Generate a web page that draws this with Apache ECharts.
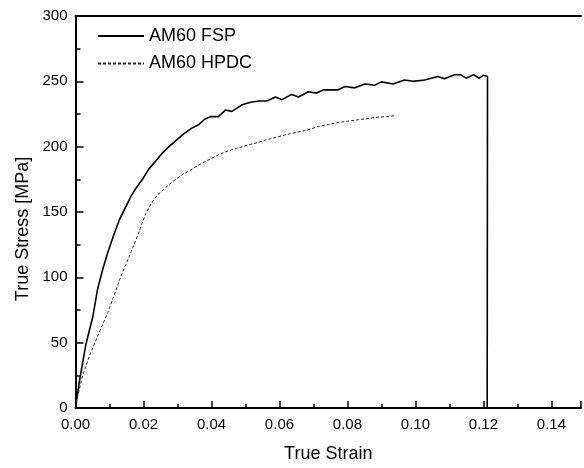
<!DOCTYPE html>
<html>
<head>
<meta charset="utf-8">
<script src="https://cdn.jsdelivr.net/npm/echarts@6/dist/echarts.min.js"></script>
<style>html,body{margin:0;padding:0;background:#fff;}#c{width:584px;height:468px;}</style>
</head>
<body>
<div id="c"></div>
<script>
var seriesNames = ['AM60 FSP', 'AM60 HPDC'];
var fspStrain = [0, 0.001, 0.003, 0.0051, 0.0065, 0.0080, 0.0095, 0.0112, 0.0129, 0.0146, 0.0163, 0.0180, 0.0197, 0.0216, 0.0236, 0.0255, 0.0275, 0.0297, 0.0319, 0.0341, 0.0363, 0.0380, 0.0397, 0.0420, 0.0441, 0.0460, 0.0490, 0.0515, 0.0539, 0.0563, 0.0588, 0.0607, 0.0636, 0.0656, 0.0685, 0.0710, 0.0730, 0.0773, 0.0793, 0.0822, 0.0851, 0.0880, 0.0900, 0.0934, 0.0968, 0.0993, 0.1027, 0.1066, 0.1085, 0.1115, 0.1134, 0.1149, 0.1171, 0.1188, 0.1200, 0.1212, 0.1211];
var fspStress = [0, 18, 48, 70, 91, 106, 119, 132, 144, 153, 162, 169, 175, 183, 189, 195, 200, 205, 210, 214, 217, 221, 223, 223, 228, 227, 232, 234, 235, 235, 238, 236, 240, 238, 242, 241, 243.5, 243.5, 246, 245, 248, 247, 249.6, 248, 251, 250, 251, 253.7, 252, 255, 255, 252.4, 255, 252.4, 254.7, 253.7, 0];
var hpdcStrain = [0, 0.0002, 0.0021, 0.0041, 0.0070, 0.0095, 0.0109, 0.0134, 0.0158, 0.0182, 0.0207, 0.0224, 0.0241, 0.0258, 0.0275, 0.0295, 0.0314, 0.0338, 0.0363, 0.0388, 0.0412, 0.0436, 0.0460, 0.0485, 0.0510, 0.0534, 0.0558, 0.0588, 0.0617, 0.0650, 0.0680, 0.0714, 0.0745, 0.0773, 0.0800, 0.0832, 0.0860, 0.0890, 0.0915, 0.0939];
var hpdcStress = [0, 4.6, 24.7, 40, 58, 73, 83, 101, 116, 131.5, 149, 157, 163, 167, 171, 175, 178.6, 182, 186, 189.5, 192.6, 195.5, 197.7, 199.5, 201.5, 203, 205, 207, 209, 211, 212.5, 215.5, 217, 218.6, 219.5, 220.6, 221.5, 222.6, 223, 223.7];
var xTicks = [0, 0.02, 0.04, 0.06, 0.08, 0.10, 0.12, 0.14];
var yTicks = [0, 50, 100, 150, 200, 250, 300];

function pairs(xs, ys) { return xs.map(function (x, i) { return [x, ys[i]]; }); }
function isTick(list, v) { return list.some(function (t) { return Math.abs(t - v) < 1e-9; }); }

var FONT = 'Liberation Sans, Arial, sans-serif';
var XMAX = 0.1487;
var chart = echarts.init(document.getElementById('c'), null, {renderer: 'canvas'});
chart.setOption({
  animation: false,
  backgroundColor: '#fff',
  grid: {left: 75.5, right: 0, top: 16, bottom: 57.5, show: false},
  legend: {
    orient: 'vertical', left: 92, top: 22, itemWidth: 46, itemHeight: 14, itemGap: 9.5,
    itemStyle: {opacity: 0},
    textStyle: {fontSize: 18, color: '#000', fontFamily: FONT},
    data: seriesNames
  },
  xAxis: [
    {
      type: 'value', position: 'bottom', min: 0, max: XMAX, interval: 0.02,
      name: 'True Strain', nameLocation: 'middle', nameGap: 37,
      nameTextStyle: {fontSize: 18, color: '#000', fontFamily: FONT},
      axisLine: {show: true, onZero: false, lineStyle: {color: '#000', width: 2}},
      axisTick: {show: true, inside: true, length: 7, lineStyle: {color: '#000', width: 1.5}},
      splitLine: {show: false},
      axisLabel: {fontSize: 15, color: '#000', fontFamily: FONT, margin: 9,
        formatter: function (v) { return isTick(xTicks, v) ? v.toFixed(2) : ''; }}
    },
    {
      type: 'value', position: 'bottom', min: 0, max: XMAX, interval: 0.01,
      axisLine: {show: false, onZero: false},
      axisTick: {show: true, inside: true, length: 4, lineStyle: {color: '#000', width: 1.5}},
      splitLine: {show: false},
      axisLabel: {show: false}
    },
    {
      type: 'value', position: 'top', min: 0, max: XMAX,
      axisLine: {show: true, onZero: false, lineStyle: {color: '#000', width: 2}},
      axisTick: {show: false}, splitLine: {show: false}, axisLabel: {show: false}
    }
  ],
  yAxis: {
    type: 'value', min: 0, max: 300, interval: 50,
    name: 'True Stress [MPa]', nameLocation: 'middle', nameGap: 43,
    nameTextStyle: {fontSize: 18, color: '#000', fontFamily: FONT, padding: [0, 34, 0, 0]},
    axisLine: {show: true, onZero: false, lineStyle: {color: '#000', width: 2}},
    axisTick: {show: true, inside: true, length: 8, lineStyle: {color: '#000', width: 1.5}},
    minorTick: {show: true, splitNumber: 2, length: 5, lineStyle: {color: '#000', width: 1.5}},
    splitLine: {show: false},
    axisLabel: {fontSize: 15, color: '#000', fontFamily: FONT, margin: 8,
      formatter: function (v) { return yTicks.indexOf(v) >= 0 ? String(v) : ''; }}
  },
  series: [
    {name: seriesNames[0], type: 'line', xAxisIndex: 0, symbol: 'none', data: pairs(fspStrain, fspStress),
     lineStyle: {color: '#000', width: 1.6}, itemStyle: {color: '#000'}},
    {name: seriesNames[1], type: 'line', xAxisIndex: 0, symbol: 'none', data: pairs(hpdcStrain, hpdcStress),
     lineStyle: {color: '#222', width: 1, type: [3, 2]}, itemStyle: {color: '#222'}}
  ]
});
</script>
</body>
</html>
